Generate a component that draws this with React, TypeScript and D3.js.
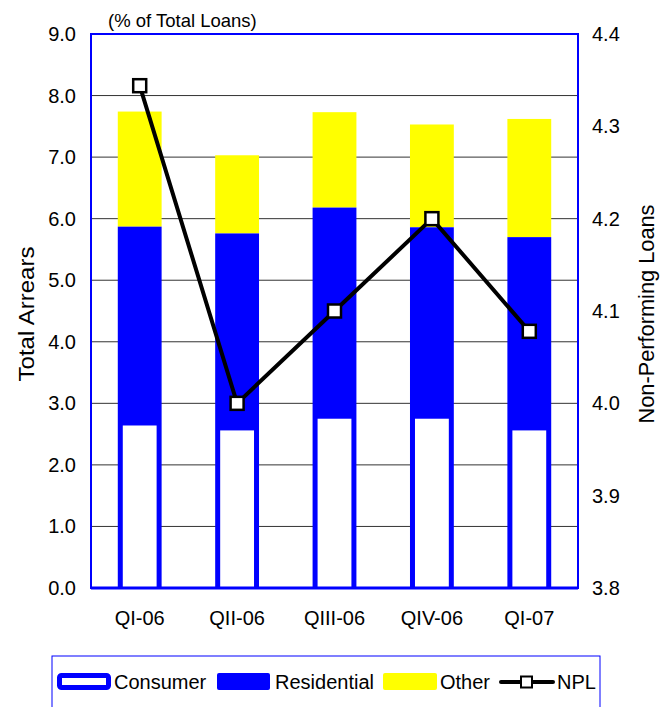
import React from "react";
import * as d3 from "d3";

const quarters = ["QI-06", "QII-06", "QIII-06", "QIV-06", "QI-07"];
const consumer = [2.64, 2.56, 2.75, 2.75, 2.56];
const residentialTop = [5.87, 5.76, 6.18, 5.86, 5.70];
const totalArrears = [7.74, 7.03, 7.73, 7.53, 7.62];
const npl = [4.344, 4.0, 4.1, 4.2, 4.078];
const leftTicks = [0, 1, 2, 3, 4, 5, 6, 7, 8, 9];
const rightTicks = [3.8, 3.9, 4.0, 4.1, 4.2, 4.3, 4.4];

const W = 663;
const H = 707;
const m = { left: 91, right: 578, top: 34, bottom: 588 };
const FONT = "'Liberation Sans', Arial, sans-serif";
const BLUE = "#0000ff";
const YELLOW = "#ffff00";

export default function App() {
  const x = d3
    .scaleBand<string>()
    .domain(quarters)
    .range([m.left, m.right])
    .paddingInner(0.55)
    .paddingOuter(0.275);
  const yL = d3.scaleLinear().domain([0, 9]).range([m.bottom, m.top]);
  const yR = d3.scaleLinear().domain([3.8, 4.4]).range([m.bottom, m.top]);
  const bw = x.bandwidth();
  const inset = 5;

  const line = d3
    .line<number>()
    .x((_, i) => (x(quarters[i]) as number) + bw / 2)
    .y((d) => yR(d));

  const mk = 13;

  return (
    <svg
      width={W}
      height={H}
      style={{ position: "absolute", left: 0, top: 0, background: "#fff" }}
      fontFamily={FONT}
    >
      {/* gridlines */}
      {leftTicks.slice(1, -1).map((t) => (
        <line
          key={t}
          x1={m.left}
          x2={m.right}
          y1={yL(t)}
          y2={yL(t)}
          stroke="#333"
          strokeWidth={1}
        />
      ))}

      {/* stacked bars */}
      {quarters.map((q, i) => {
        const bx = x(q) as number;
        return (
          <g key={q}>
            <rect
              x={bx}
              y={yL(totalArrears[i])}
              width={bw}
              height={yL(residentialTop[i]) - yL(totalArrears[i])}
              fill={YELLOW}
            />
            <rect
              x={bx}
              y={yL(residentialTop[i])}
              width={bw}
              height={yL(0) - yL(residentialTop[i])}
              fill={BLUE}
            />
            <rect
              x={bx + inset}
              y={yL(consumer[i])}
              width={bw - inset * 2}
              height={yL(0) - yL(consumer[i]) - 1}
              fill="#fff"
            />
          </g>
        );
      })}

      {/* plot frame */}
      <rect
        x={m.left}
        y={m.top}
        width={m.right - m.left}
        height={m.bottom - m.top}
        fill="none"
        stroke={BLUE}
        strokeWidth={2}
      />
      <line x1={m.left} x2={m.right} y1={m.bottom} y2={m.bottom} stroke={BLUE} strokeWidth={3} />

      {/* NPL line */}
      <path d={line(npl) || ""} fill="none" stroke="#000" strokeWidth={4} strokeLinejoin="miter" />
      {npl.map((v, i) => (
        <rect
          key={i}
          x={(x(quarters[i]) as number) + bw / 2 - mk / 2}
          y={yR(v) - mk / 2}
          width={mk}
          height={mk}
          fill="#fff"
          stroke="#000"
          strokeWidth={2.5}
        />
      ))}

      {/* left axis labels */}
      {leftTicks.map((t) => (
        <text key={t} x={76} y={yL(t) + 7} textAnchor="end" fontSize={20} fill="#000">
          {t.toFixed(1)}
        </text>
      ))}
      {/* right axis labels */}
      {rightTicks.map((t) => (
        <text key={t} x={592} y={yR(t) + 7} textAnchor="start" fontSize={20} fill="#000">
          {t.toFixed(1)}
        </text>
      ))}
      {/* category labels */}
      {quarters.map((q) => (
        <text
          key={q}
          x={(x(q) as number) + bw / 2}
          y={625}
          textAnchor="middle"
          fontSize={20}
          fill="#000"
        >
          {q}
        </text>
      ))}

      {/* titles */}
      <text x={108} y={27} fontSize={18.5} fill="#000">
        (% of Total Loans)
      </text>
      <text
        transform={`translate(34, 314) rotate(-90)`}
        textAnchor="middle"
        fontSize={22}
        textLength={135}
        lengthAdjust="spacingAndGlyphs"
        fill="#000"
      >
        Total Arrears
      </text>
      <text
        transform={`translate(654, 314) rotate(-90)`}
        textAnchor="middle"
        fontSize={22}
        textLength={219}
        lengthAdjust="spacingAndGlyphs"
        fill="#000"
      >
        Non-Performing Loans
      </text>

      {/* legend */}
      <rect x={52} y={656} width={548} height={70} fill="#fff" stroke={BLUE} strokeWidth={1} />
      <rect x={59.5} y={675.5} width={49} height={12} rx={2} fill="#fff" stroke={BLUE} strokeWidth={5} />
      <text x={114} y={689} fontSize={20} fill="#000">Consumer</text>
      <rect x={217} y={673} width={53} height={17} rx={2} fill={BLUE} />
      <text x={275} y={689} fontSize={20} fill="#000">Residential</text>
      <rect x={383} y={673} width={54} height={17} rx={2} fill={YELLOW} />
      <text x={440} y={689} fontSize={20} fill="#000">Other</text>
      <line x1={501} x2={553} y1={682} y2={682} stroke="#000" strokeWidth={4} strokeLinecap="round" />
      <rect x={521} y={676.5} width={11} height={11} fill="#fff" stroke="#000" strokeWidth={2} />
      <text x={557} y={689} fontSize={20} fill="#000">NPL</text>
    </svg>
  );
}
